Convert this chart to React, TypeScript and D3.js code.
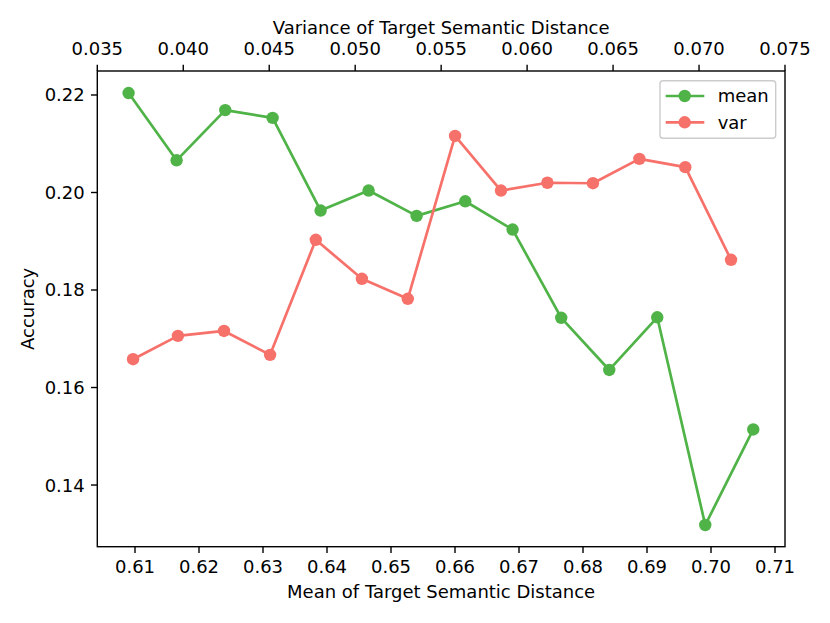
import * as d3 from "d3";

// mean series: x = mean of target semantic distance (bottom axis)
const meanX = [0.609, 0.6165, 0.6241, 0.6315, 0.639, 0.6465, 0.654, 0.6616, 0.669, 0.6766, 0.6841, 0.6916, 0.6991, 0.7066];
const meanAcc = [0.2204, 0.2066, 0.2169, 0.2153, 0.1963, 0.2004, 0.1952, 0.1982, 0.1924, 0.1743, 0.1636, 0.1744, 0.1318, 0.1514];

// var series: x = variance of target semantic distance (top axis)
const varX = [0.03708, 0.03969, 0.04237, 0.04505, 0.04771, 0.05039, 0.05306, 0.05581, 0.05848, 0.06118, 0.06383, 0.06653, 0.0692, 0.07186];
const varAcc = [0.1658, 0.1706, 0.1716, 0.1667, 0.1903, 0.1823, 0.1782, 0.2116, 0.2004, 0.202, 0.2019, 0.2069, 0.2052, 0.1862];

const bottomTicks = [0.61, 0.62, 0.63, 0.64, 0.65, 0.66, 0.67, 0.68, 0.69, 0.7, 0.71];
const topTicks = [0.035, 0.04, 0.045, 0.05, 0.055, 0.06, 0.065, 0.07, 0.075];
const yTicks = [0.14, 0.16, 0.18, 0.2, 0.22];

const GREEN = "#4fb347";
const RED = "#f7716b";
const FONT = "DejaVu Sans";
const FS = 18;

const left = 97.3, right = 785, top = 71, bottom = 546.7;

const xMean = d3.scaleLinear().domain([0.60411, 0.71156]).range([left, right]);
const xVar = d3.scaleLinear().domain([0.035, 0.075]).range([left, right]);
const y = d3.scaleLinear().domain([0.12735, 0.22492]).range([bottom, top]);

const line = d3.line<[number, number]>();

export default function App() {
  const meanPts: [number, number][] = meanX.map((v, i) => [xMean(v), y(meanAcc[i])]);
  const varPts: [number, number][] = varX.map((v, i) => [xVar(v), y(varAcc[i])]);

  return (
    <svg
      width={830}
      height={623}
      style={{ position: "absolute", left: 0, top: 0, background: "#fff" }}
      fontFamily={FONT}
      fontSize={FS}
    >
      <rect x={0} y={0} width={830} height={623} fill="#fff" />

      {/* series */}
      <path d={line(meanPts)!} fill="none" stroke={GREEN} strokeWidth={2.7} strokeLinejoin="round" />
      {meanPts.map((p, i) => (
        <circle key={"m" + i} cx={p[0]} cy={p[1]} r={6.2} fill={GREEN} />
      ))}
      <path d={line(varPts)!} fill="none" stroke={RED} strokeWidth={2.7} strokeLinejoin="round" />
      {varPts.map((p, i) => (
        <circle key={"v" + i} cx={p[0]} cy={p[1]} r={6.2} fill={RED} />
      ))}

      {/* frame */}
      <rect x={left} y={top} width={right - left} height={bottom - top} fill="none" stroke="#000" strokeWidth={1.4} />

      {/* bottom axis */}
      {bottomTicks.map((t) => (
        <g key={"b" + t} transform={`translate(${xMean(t)},${bottom})`}>
          <line y2={6.3} stroke="#000" strokeWidth={1.4} />
          <text y={26.6} textAnchor="middle">{t.toFixed(2)}</text>
        </g>
      ))}
      <text x={(left + right) / 2} y={598} textAnchor="middle">Mean of Target Semantic Distance</text>

      {/* top axis */}
      {topTicks.map((t) => (
        <g key={"t" + t} transform={`translate(${xVar(t)},${top})`}>
          <line y2={-6.3} stroke="#000" strokeWidth={1.4} />
          <text y={-16} textAnchor="middle">{t.toFixed(3)}</text>
        </g>
      ))}
      <text x={(left + right) / 2} y={34} textAnchor="middle">Variance of Target Semantic Distance</text>

      {/* left axis */}
      {yTicks.map((t) => (
        <g key={"y" + t} transform={`translate(${left},${y(t)})`}>
          <line x2={-6.3} stroke="#000" strokeWidth={1.4} />
          <text x={-12.6} dy="0.36em" textAnchor="end">{t.toFixed(2)}</text>
        </g>
      ))}
      <text transform={`translate(34,${(top + bottom) / 2}) rotate(-90)`} textAnchor="middle">Accuracy</text>

      {/* legend */}
      <rect x={660} y={80.7} width={115.7} height={57.6} rx={3} fill="#fff" fillOpacity={0.8} stroke="#cccccc" strokeWidth={1.4} />
      <line x1={665.7} x2={704.3} y1={96} y2={96} stroke={GREEN} strokeWidth={2.7} />
      <circle cx={684.7} cy={96} r={6.2} fill={GREEN} />
      <text x={717.7} y={102.3}>mean</text>
      <line x1={665.7} x2={704.3} y1={122.3} y2={122.3} stroke={RED} strokeWidth={2.7} />
      <circle cx={684.7} cy={122.3} r={6.2} fill={RED} />
      <text x={717.7} y={128.6}>var</text>
    </svg>
  );
}
